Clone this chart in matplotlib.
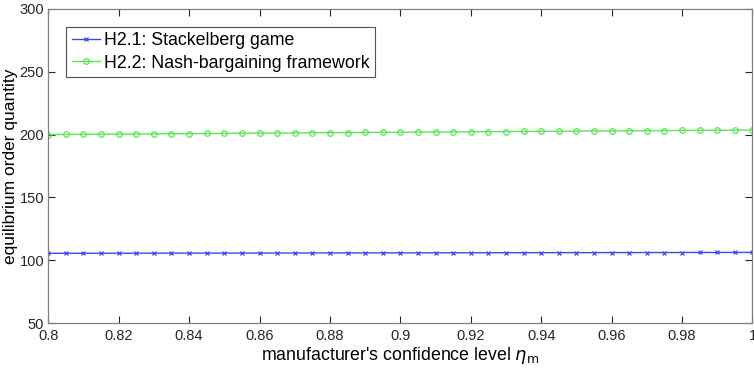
import numpy as np
import matplotlib
matplotlib.use("Agg")
import matplotlib.pyplot as plt

plt.rcParams['font.family'] = ['Liberation Sans', 'DejaVu Sans']

# confidence level eta_m, 0.8 .. 1 in steps of 0.005
eta = np.linspace(0.8, 1.0, 41)

# H2.1: Stackelberg game
stackelberg = [105.50, 105.52, 105.53, 105.55, 105.57, 105.59, 105.60, 105.62, 105.64, 105.66,
               105.67, 105.69, 105.71, 105.73, 105.74, 105.76, 105.78, 105.80, 105.81, 105.83,
               105.85, 105.87, 105.88, 105.90, 105.92, 105.94, 105.95, 105.97, 105.99, 106.01,
               106.02, 106.04, 106.06, 106.08, 106.09, 106.11, 106.13, 106.15, 106.16, 106.18,
               106.20]
# H2.2: Nash-bargaining framework
nash = [200.00, 200.10, 200.20, 200.29, 200.39, 200.48, 200.58, 200.67, 200.77, 200.86,
        200.96, 201.05, 201.14, 201.23, 201.33, 201.42, 201.51, 201.60, 201.69, 201.78,
        201.87, 201.96, 202.05, 202.14, 202.23, 202.32, 202.41, 202.50, 202.58, 202.67,
        202.76, 202.85, 202.93, 203.02, 203.11, 203.19, 203.28, 203.37, 203.45, 203.54,
        203.62]

fig = plt.figure(figsize=(7.54, 3.73), dpi=100)
ax = fig.add_axes([0.064, 0.134, 0.934, 0.842])

ax.plot(eta, stackelberg, '-x', color='#4646e6', lw=1.0, ms=3.5, mew=0.9,
        label='H2.1: Stackelberg game')
ax.plot(eta, nash, '-o', color='#5ae65a', lw=1.0, ms=4, mew=0.9, mfc='none',
        label='H2.2: Nash-bargaining framework')

ax.set_xlim(0.8, 1.0)
ax.set_ylim(50, 300)
ax.set_xticks(np.arange(0.8, 1.0001, 0.02))
ax.set_xticklabels(['0.8', '0.82', '0.84', '0.86', '0.88', '0.9', '0.92', '0.94', '0.96', '0.98', '1'])
ax.set_yticks(np.arange(50, 301, 50))

ax.tick_params(direction='in', top=True, right=True, length=5, width=0.8,
               colors='#262626', labelsize=10.5)
ax.tick_params(axis='x', pad=4)
ax.tick_params(axis='y', pad=3)
for s in ax.spines.values():
    s.set_color('#808080')
    s.set_linewidth(0.9)

ax.set_xlabel("manufacturer's confidence level $\\eta_{\\mathrm{m}}$", fontsize=12.8, labelpad=2)
ax.set_ylabel('equilibrium order quantity', fontsize=12.5, labelpad=1)

leg = ax.legend(loc='upper left', bbox_to_anchor=(0.0256, 0.943), fontsize=12.8,
                frameon=True, fancybox=False, handlelength=1.6, handletextpad=0.2,
                borderpad=0.3, labelspacing=0.3, borderaxespad=0.0)
leg.get_frame().set_edgecolor('#262626')
leg.get_frame().set_linewidth(0.8)

fig.savefig('out.png', dpi=100)
